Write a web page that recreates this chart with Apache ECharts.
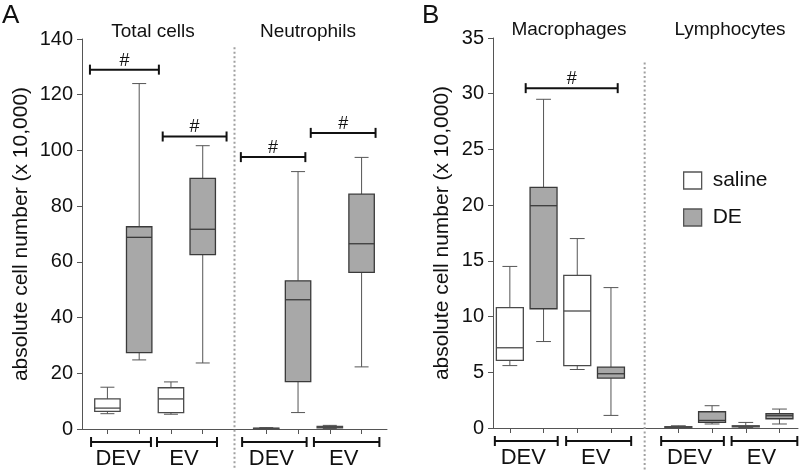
<!DOCTYPE html>
<html>
<head>
<meta charset="utf-8">
<script src="https://cdn.jsdelivr.net/npm/echarts@6/dist/echarts.min.js"></script>
<style>html,body{margin:0;padding:0;background:#fff;}#chart{width:800px;height:470px;}</style>
</head>
<body>
<div id="chart"></div>
<script>
// ---------- data ----------
const treatments = ['saline', 'DE'];
const groupLabels = ['DEV', 'EV'];
const panelATitles = ['Total cells', 'Neutrophils'];
const panelBTitles = ['Macrophages', 'Lymphocytes'];
const yAxisName = 'absolute cell number (x 10,000)';
const sigLabel = '#';

// [min, Q1, median, Q3, max] per group (DEV, EV)
const totalCellsSaline = [[5.5, 6.3, 7.5, 10.8, 15.0], [5.3, 5.9, 10.8, 14.8, 16.9]];
const totalCellsDE     = [[24.8, 27.4, 68.8, 72.6, 124.0], [23.7, 62.6, 71.7, 90.0, 101.7]];
const neutrophilsSaline = [[0.0, 0.1, 0.2, 0.3, 0.5], [0.2, 0.4, 0.6, 0.9, 1.3]];
const neutrophilsDE     = [[5.9, 17.0, 46.4, 53.2, 92.4], [22.3, 56.2, 66.5, 84.3, 97.5]];
const macrophagesSaline = [[5.6, 6.06, 7.2, 10.8, 14.5], [5.25, 5.6, 10.5, 13.7, 17.0]];
const macrophagesDE     = [[7.76, 10.7, 19.95, 21.6, 29.5], [1.13, 4.48, 4.87, 5.47, 12.6]];
const lymphocytesSaline = [[0.0, 0.05, 0.08, 0.12, 0.2], [0.05, 0.1, 0.15, 0.2, 0.5]];
const lymphocytesDE     = [[0.36, 0.5, 0.68, 1.46, 2.0], [0.36, 0.83, 1.1, 1.28, 1.7]];

// significance brackets: [from, to, level] on axis values
const sigBracketsA = [[0.45, 2.62, 129], [2.74, 4.75, 105], [5.2, 7.23, 97.6], [7.4, 9.44, 106.3]];
const sigBracketsB = [[1.47, 4.2, 30.5]];

// ---------- layout / style ----------
const FONT = "'Liberation Sans', Arial, Helvetica, sans-serif";
const groupSpansA = [[0.485, 2.37], [2.56, 4.45], [5.24, 7.27], [7.5, 9.56]];
const groupSpansB = [[0.555, 2.42], [2.67, 4.6], [5.49, 7.35], [7.58, 9.53]];
const tickPos = [1, 2, 3, 4, 6, 7, 8, 9];
const styles = {
  saline: { fill: '#ffffff', stroke: '#4a4a4a', whisker: '#555555' },
  DE: { fill: '#a8a8a8', stroke: '#3a3a3a', whisker: '#555555' }
};

function pos(panelSub, group, t) { return panelSub * 5 + group * 2 + t + 1; }

function boxData(setPair, t) {
  const out = [];
  setPair.forEach((arr, p) => arr.forEach((v, g) => out.push([pos(p, g, t)].concat(v))));
  return out;
}

function boxRender(style) {
  return function (params, api) {
    const x = api.value(0);
    const mn = api.value(1), q1 = api.value(2), md = api.value(3), q3 = api.value(4), mx = api.value(5);
    const hw = 0.4, cw = 0.22;
    const tl = api.coord([x - hw, q3]), br = api.coord([x + hw, q1]);
    const c = api.coord([x, 0])[0];
    const yMax = api.coord([x, mx])[1], yMin = api.coord([x, mn])[1];
    const yMed = api.coord([x, md])[1];
    const cl = api.coord([x - cw, 0])[0], cr = api.coord([x + cw, 0])[0];
    const ls = { stroke: style.whisker, lineWidth: 1 };
    return {
      type: 'group',
      children: [
        { type: 'line', shape: { x1: c, y1: yMax, x2: c, y2: tl[1] }, style: ls },
        { type: 'line', shape: { x1: c, y1: yMin, x2: c, y2: br[1] }, style: ls },
        { type: 'line', shape: { x1: cl, y1: yMax, x2: cr, y2: yMax }, style: ls },
        { type: 'line', shape: { x1: cl, y1: yMin, x2: cr, y2: yMin }, style: ls },
        { type: 'rect', shape: { x: tl[0], y: tl[1], width: br[0] - tl[0], height: Math.max(br[1] - tl[1], 1) },
          style: { fill: style.fill, stroke: style.stroke, lineWidth: 1.3 } },
        { type: 'line', shape: { x1: tl[0], y1: yMed, x2: br[0], y2: yMed }, style: { stroke: style.stroke, lineWidth: 1.3 } }
      ]
    };
  };
}

function sigRender(params, api) {
  const a = api.coord([api.value(0), api.value(2)]);
  const b = api.coord([api.value(1), api.value(2)]);
  const st = { stroke: '#111', lineWidth: 2 };
  return {
    type: 'group',
    children: [
      { type: 'line', shape: { x1: a[0], y1: a[1], x2: b[0], y2: b[1] }, style: st },
      { type: 'line', shape: { x1: a[0], y1: a[1] - 5, x2: a[0], y2: a[1] + 5 }, style: st },
      { type: 'line', shape: { x1: b[0], y1: b[1] - 5, x2: b[0], y2: b[1] + 5 }, style: st },
      { type: 'text', style: { text: sigLabel, x: (a[0] + b[0]) / 2, y: a[1] - 9, textAlign: 'center', textVerticalAlign: 'middle',
        font: '18px ' + FONT, fill: '#111' } }
    ]
  };
}

function groupRender(params, api) {
  const a = api.coord([api.value(0), 0]);
  const b = api.coord([api.value(1), 0]);
  const y = a[1] + 13;
  const st = { stroke: '#111', lineWidth: 2 };
  return {
    type: 'group',
    children: [
      { type: 'line', shape: { x1: a[0], y1: y, x2: b[0], y2: y }, style: st },
      { type: 'line', shape: { x1: a[0], y1: y - 5, x2: a[0], y2: y + 5 }, style: st },
      { type: 'line', shape: { x1: b[0], y1: y - 5, x2: b[0], y2: y + 5 }, style: st },
      { type: 'text', style: { text: groupLabels[params.dataIndex % 2], x: (a[0] + b[0]) / 2 - 3, y: a[1] + 30,
        textAlign: 'center', textVerticalAlign: 'middle', font: '22px ' + FONT, fill: '#111' } }
    ]
  };
}

function sepRender(params, api) {
  const t = api.coord([api.value(0), api.value(1)]);
  return {
    type: 'line',
    shape: { x1: t[0], y1: t[1], x2: t[0], y2: 472 },
    style: { stroke: '#a0a0a0', lineWidth: 2, lineDash: [2, 2.5] }
  };
}

function axisX(gridIndex, min, max) {
  return {
    type: 'value', gridIndex, min, max,
    axisLine: { show: true, onZero: false, lineStyle: { color: '#555', width: 1 } },
    axisTick: { show: true, length: 5, customValues: tickPos, lineStyle: { color: '#555' } },
    axisLabel: { show: false },
    splitLine: { show: false }
  };
}
function axisY(gridIndex, max, interval, nameGap) {
  return {
    type: 'value', gridIndex, min: 0, max, interval,
    name: yAxisName, nameLocation: 'middle', nameGap, nameRotate: 90,
    nameTextStyle: { fontFamily: FONT, fontSize: 21, color: '#111' },
    axisLine: { show: true, lineStyle: { color: '#555', width: 1 } },
    axisTick: { show: true, length: 5, lineStyle: { color: '#555' } },
    axisLabel: { fontFamily: FONT, fontSize: 20, color: '#111', margin: 9 },
    splitLine: { show: false }
  };
}

const seriesList = [];
[[0, [totalCellsSaline, neutrophilsSaline], [totalCellsDE, neutrophilsDE]],
 [1, [macrophagesSaline, lymphocytesSaline], [macrophagesDE, lymphocytesDE]]].forEach(([gi, sal, de]) => {
  seriesList.push({ type: 'custom', name: treatments[0], xAxisIndex: gi, yAxisIndex: gi, renderItem: boxRender(styles.saline),
    encode: { x: 0, y: [1, 2, 3, 4, 5] }, data: boxData(sal, 0), itemStyle: { color: '#fff' }, silent: true });
  seriesList.push({ type: 'custom', name: treatments[1], xAxisIndex: gi, yAxisIndex: gi, renderItem: boxRender(styles.DE),
    encode: { x: 0, y: [1, 2, 3, 4, 5] }, data: boxData(de, 1), itemStyle: { color: '#a8a8a8' }, silent: true });
});
seriesList.push({ type: 'custom', xAxisIndex: 0, yAxisIndex: 0, clip: false, renderItem: sigRender, encode: { x: [0, 1], y: 2 }, data: sigBracketsA, silent: true });
seriesList.push({ type: 'custom', xAxisIndex: 1, yAxisIndex: 1, clip: false, renderItem: sigRender, encode: { x: [0, 1], y: 2 }, data: sigBracketsB, silent: true });
seriesList.push({ type: 'custom', xAxisIndex: 0, yAxisIndex: 0, clip: false, renderItem: groupRender, encode: { x: [0, 1] }, data: groupSpansA, silent: true });
seriesList.push({ type: 'custom', xAxisIndex: 1, yAxisIndex: 1, clip: false, renderItem: groupRender, encode: { x: [0, 1] }, data: groupSpansB, silent: true });
seriesList.push({ type: 'custom', xAxisIndex: 0, yAxisIndex: 0, clip: false, renderItem: sepRender, data: [[5, 137]], silent: true });
seriesList.push({ type: 'custom', xAxisIndex: 1, yAxisIndex: 1, clip: false, renderItem: sepRender, data: [[5, 32.8]], silent: true });

const option = {
  animation: false,
  backgroundColor: '#fff',
  grid: [
    { left: 82, top: 39, width: 305, height: 390 },
    { left: 493, top: 38, width: 305, height: 390 }
  ],
  xAxis: [axisX(0, 0.2, 9.8), axisX(1, 0.5, 9.55)],
  yAxis: [axisY(0, 140, 20, 50), axisY(1, 35, 5, 40)],
  legend: {
    left: 683, top: 170, orient: 'vertical', itemWidth: 18, itemHeight: 17, itemGap: 16, padding: 0,
    icon: 'rect',
    textStyle: { fontFamily: FONT, fontSize: 21, color: '#111', padding: [0, 0, 0, 6] },
    data: [
      { name: 'saline', itemStyle: { color: '#fff', borderColor: '#555', borderWidth: 1.3 } },
      { name: 'DE', itemStyle: { color: '#a8a8a8', borderColor: '#555', borderWidth: 1.3 } }
    ],
    selectedMode: false
  },
  graphic: [
    { type: 'text', left: 2, top: 3, style: { text: 'A', font: '26px ' + FONT, fill: '#111' } },
    { type: 'text', left: 422, top: 3, style: { text: 'B', font: '26px ' + FONT, fill: '#111' } },
    { type: 'text', x: 153, y: 32, style: { text: panelATitles[0], textAlign: 'center', textVerticalAlign: 'middle', font: '19px ' + FONT, fill: '#111' } },
    { type: 'text', x: 308, y: 32, style: { text: panelATitles[1], textAlign: 'center', textVerticalAlign: 'middle', font: '19px ' + FONT, fill: '#111' } },
    { type: 'text', x: 569, y: 30, style: { text: panelBTitles[0], textAlign: 'center', textVerticalAlign: 'middle', font: '19px ' + FONT, fill: '#111' } },
    { type: 'text', x: 730, y: 30, style: { text: panelBTitles[1], textAlign: 'center', textVerticalAlign: 'middle', font: '19px ' + FONT, fill: '#111' } }
  ],
  series: seriesList
};
const chart = echarts.init(document.getElementById('chart'), null, { renderer: 'canvas' });
chart.setOption(option);
</script>
</body>
</html>
